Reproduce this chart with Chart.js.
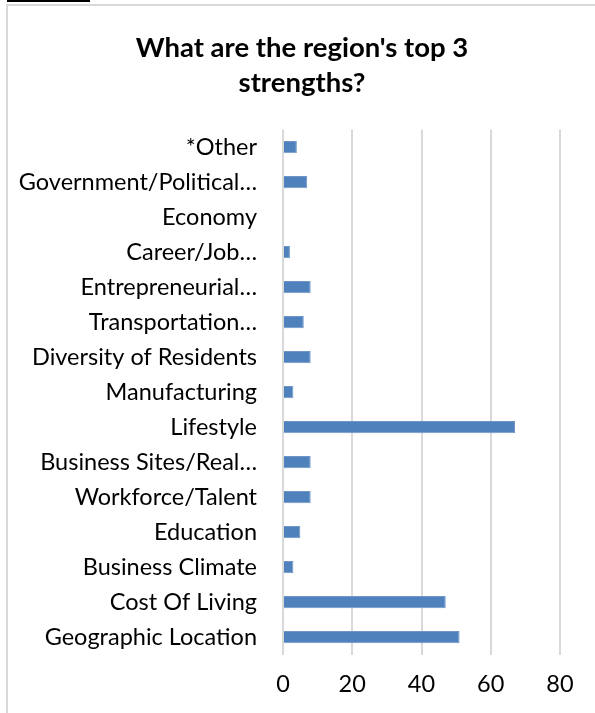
<!DOCTYPE html>
<html>
<head>
<meta charset="utf-8">
<script src="https://cdn.jsdelivr.net/npm/chart.js@4/dist/chart.umd.min.js"></script>
<style>
  html, body { margin: 0; padding: 0; background: #fff; }
  #wrap { position: relative; width: 595px; height: 713px; overflow: hidden; }
  #frame { position: absolute; left: 6px; top: 4px; width: 600px; height: 720px;
           border-left: 2px solid #d9d9d9; border-top: 2px solid #d9d9d9; }
  #tab { position: absolute; left: 7px; top: 0; width: 83px; height: 2px; background: #000; }
  #title { position: absolute; left: 202px; width: 200px; top: 29px; text-align: center;
           white-space: nowrap; font-family: Lato, 'Open Sans', sans-serif; font-weight: bold;
           font-size: 27.5px; line-height: 35px; color: #000; }
  #title div { margin-left: -200px; margin-right: -200px; }
  canvas { position: absolute; left: 0; top: 0; }
</style>
</head>
<body>
<div id="wrap">
  <canvas id="c" width="595" height="713"></canvas>
  <div id="frame"></div>
  <div id="tab"></div>
  <div id="title"><div id="t1"></div><div id="t2"></div></div>
</div>
<script>
// Survey answers, listed top to bottom as they appear on the chart
const categories = [
  "*Other",
  "Government/Political\u2026",
  "Economy",
  "Career/Job\u2026",
  "Entrepreneurial\u2026",
  "Transportation\u2026",
  "Diversity of Residents",
  "Manufacturing",
  "Lifestyle",
  "Business Sites/Real\u2026",
  "Workforce/Talent",
  "Education",
  "Business Climate",
  "Cost Of Living",
  "Geographic Location"
];
const responses = [4, 7, 0, 2, 8, 6, 8, 3, 67, 8, 8, 5, 3, 47, 51];
const xTicks = [0, 20, 40, 60, 80];
const titleLines = ["What are the region's top 3", "strengths?"];

document.getElementById("t1").textContent = titleLines[0];
document.getElementById("t2").textContent = titleLines[1];

const FONT = "Lato, 'Open Sans', sans-serif";

new Chart(document.getElementById("c"), {
  type: "bar",
  data: {
    labels: categories,
    datasets: [{
      data: responses,
      backgroundColor: "#4f81bd",
      borderColor: "#6e96c9",
      borderWidth: 1,
      barPercentage: 0.35,
      categoryPercentage: 1
    }]
  },
  options: {
    indexAxis: "y",
    responsive: false,
    animation: false,
    layout: { padding: { left: 0, right: 35, top: 129.5, bottom: 0 } },
    plugins: {
      legend: { display: false },
      tooltip: { enabled: false },
      title: { display: false }
    },
    scales: {
      x: {
        min: xTicks[0],
        max: xTicks[xTicks.length - 1],
        afterBuildTicks: (s) => { s.ticks = xTicks.map(v => ({ value: v })); },
        grid: { color: "#d9d9d9", lineWidth: 2, drawTicks: false },
        border: { display: false },
        ticks: { color: "#000", padding: 16, font: { family: FONT, size: 23.5 } },
        afterFit: (s) => { s.height = 58.5; }
      },
      y: {
        grid: { display: false },
        border: { display: false },
        ticks: { color: "#000", padding: 18, autoSkip: false, font: { family: FONT, size: 23.5 } },
        afterFit: (s) => { s.width = 283; }
      }
    }
  }
});
</script>
</body>
</html>
